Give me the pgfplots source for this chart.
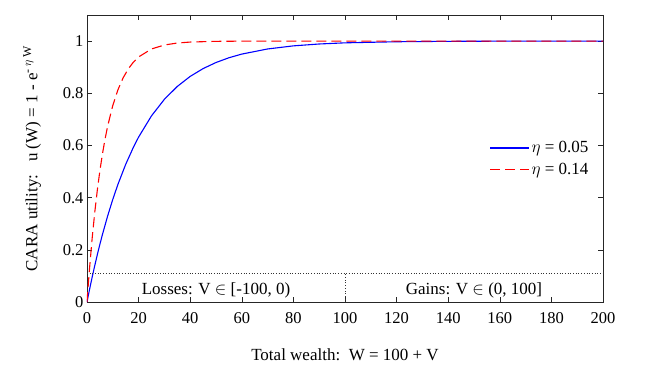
\documentclass[border=0pt]{standalone}
\usepackage{fontspec}
\setmainfont{Liberation Serif}
\usepackage{pgfplots}
\pgfplotsset{compat=1.18}

\begin{document}
\begin{tikzpicture}
\useasboundingbox (-87pt,-65pt) rectangle (581pt,302pt);
\begin{axis}[
  scale only axis,
  width=516pt, height=287pt,
  xmin=0, xmax=200, ymin=0, ymax=1.1,
  xtick={0,20,...,200},
  ytick={0,0.2,0.4,0.6,0.8,1},
  yticklabels={0,0.2,0.4,0.6,0.8,1},
  tick align=inside,
  major tick length=5pt,
  axis line style={black!85, line width=0.6pt},
  tick style={black!85, line width=0.5pt},
  font=\fontsize{17}{20}\selectfont,
  tick label style={font=\fontsize{16.5}{19}\selectfont},
  xticklabel style={yshift=-7pt},
  /pgf/number format/assume math mode=true,
  xlabel={Total wealth:\ \ W = 100 + V},
  ylabel={CARA utility:\ \ \ u (W) = 1 - e\textsuperscript{- $\eta$ W}},
  xlabel style={font=\fontsize{17}{20}\selectfont, yshift=-18pt},
  ylabel style={font=\fontsize{17}{20}\selectfont, yshift=15pt},
  legend style={at={(0.978,0.57)}, anchor=north east, draw=white, fill=white,
                font=\fontsize{17}{20}\selectfont, row sep=5pt,
                inner sep=1pt},
  legend cell align=left,
  legend image code/.code={\draw[#1] (0pt,0pt) -- (39pt,0pt);},
]
\addplot[blue, line width=1.1pt] coordinates {
(0,0) (0.5,0.0247) (1,0.0488) (2,0.0952) (3,0.1393) (4,0.1813) (5,0.2212)
(6,0.2592) (8,0.3297) (10,0.3935) (12,0.4512) (15,0.5276) (18,0.5934)
(20,0.6321) (25,0.7135) (30,0.7769) (35,0.8262) (40,0.8647) (45,0.8946)
(50,0.9179) (55,0.9361) (60,0.9502) (70,0.9698) (80,0.9817) (90,0.9889)
(100,0.9933) (120,0.9975) (140,0.9991) (160,0.9997) (180,0.9999) (200,1.0000)
};
\addlegendentry{$\eta$ = 0.05}
\addplot[red, line width=1.1pt, dash pattern=on 10pt off 5pt] coordinates {
(0,0) (0.5,0.0676) (1,0.1306) (2,0.2442) (3,0.3430) (4,0.4288) (5,0.5034)
(6,0.5683) (7,0.6247) (8,0.6737) (10,0.7534) (12,0.8136) (14,0.8591)
(16,0.8935) (18,0.9195) (20,0.9392) (25,0.9698) (30,0.9850) (35,0.9926)
(40,0.9963) (50,0.9991) (60,0.9998) (80,1.0000) (100,1.0000) (150,1.0000) (200,1.0000)
};
\addlegendentry{$\eta$ = 0.14}
\addplot[black!80, dotted, line width=0.7pt, forget plot] coordinates {(0,0.11) (200,0.11)};
\addplot[black!80, dotted, line width=0.7pt, forget plot] coordinates {(100,0) (100,0.11)};
\node at (axis cs:50,0.045) {Losses: V $\in$ [-100, 0)};
\node at (axis cs:150,0.045) {Gains: V $\in$ (0, 100]};
\end{axis}
\end{tikzpicture}
\end{document}
